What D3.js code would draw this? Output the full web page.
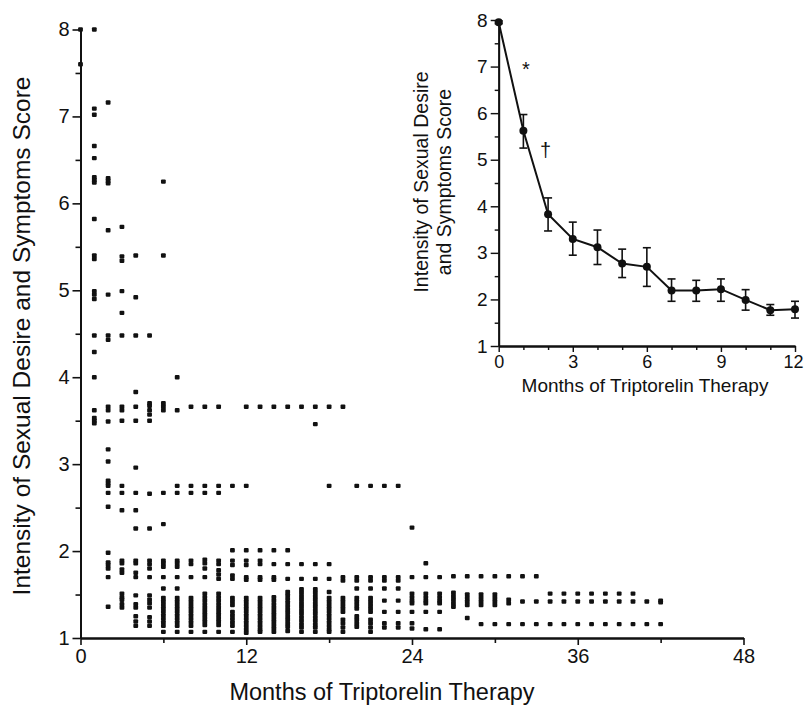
<!DOCTYPE html>
<html>
<head>
<meta charset="utf-8">
<script src="https://cdn.jsdelivr.net/npm/d3@7"></script>
<style>
  body { margin: 0; background: #fff; }
  svg text { font-family: "Liberation Sans", Arial, Helvetica, sans-serif; fill: #111; }
  .axis path, .axis line { stroke: #111; }
</style>
</head>
<body>
<div id="chart"></div>
<script>
// Individual scores per month of therapy (main scatter)
const scatterMonths = d3.range(0, 43);
const scatterScores = [
  [8.0, 7.6],
  [8.0, 7.09, 7.02, 6.66, 6.52, 6.3, 6.27, 6.24, 5.82, 5.40, 5.36, 4.99, 4.95, 4.90, 4.48, 4.29, 4.0, 3.62, 3.53, 3.50, 3.47],
  [7.16, 6.29, 6.26, 6.23, 5.69, 4.95, 4.48, 4.43, 3.66, 3.62, 3.49, 3.17, 3.03, 2.81, 2.78, 2.75, 2.67, 2.51, 1.98, 1.87, 1.84, 1.80, 1.70, 1.36],
  [5.73, 5.39, 5.34, 4.99, 4.74, 4.48, 3.66, 3.62, 3.50, 2.75, 2.67, 2.47, 1.89, 1.86, 1.79, 1.75, 1.51, 1.47, 1.44, 1.39, 1.35],
  [5.40, 4.92, 4.48, 3.83, 3.66, 3.50, 2.96, 2.67, 2.47, 2.26, 1.89, 1.86, 1.75, 1.70, 1.49, 1.39, 1.35, 1.25, 1.19, 1.14],
  [4.48, 3.70, 3.67, 3.62, 3.57, 3.50, 2.66, 2.26, 1.89, 1.85, 1.80, 1.70, 1.49, 1.44, 1.40, 1.35, 1.24, 1.19, 1.14],
  [6.25, 5.40, 3.70, 3.66, 3.62, 2.67, 2.31, 1.89, 1.86, 1.82, 1.70, 1.57, 1.46, 1.42, 1.38, 1.34, 1.30, 1.26, 1.22, 1.18, 1.14, 1.07],
  [4.0, 3.62, 2.75, 2.67, 1.89, 1.86, 1.82, 1.70, 1.57, 1.46, 1.42, 1.38, 1.34, 1.30, 1.26, 1.22, 1.18, 1.14, 1.07],
  [3.66, 2.75, 2.67, 1.89, 1.85, 1.70, 1.46, 1.42, 1.38, 1.34, 1.30, 1.26, 1.22, 1.18, 1.14, 1.07],
  [3.66, 2.75, 2.67, 1.90, 1.86, 1.80, 1.70, 1.51, 1.47, 1.43, 1.39, 1.35, 1.31, 1.27, 1.23, 1.19, 1.15, 1.07],
  [3.66, 2.75, 2.67, 1.89, 1.85, 1.78, 1.73, 1.68, 1.51, 1.47, 1.43, 1.39, 1.35, 1.31, 1.27, 1.23, 1.19, 1.15, 1.07],
  [2.75, 2.01, 1.89, 1.84, 1.72, 1.68, 1.46, 1.42, 1.38, 1.30, 1.26, 1.22, 1.18, 1.14, 1.07],
  [3.66, 2.75, 2.01, 1.89, 1.84, 1.70, 1.67, 1.46, 1.42, 1.38, 1.34, 1.30, 1.26, 1.22, 1.18, 1.14, 1.10, 1.06],
  [3.66, 2.01, 1.89, 1.85, 1.70, 1.67, 1.46, 1.42, 1.38, 1.34, 1.30, 1.26, 1.22, 1.18, 1.14, 1.10, 1.07],
  [3.66, 2.01, 1.85, 1.70, 1.67, 1.47, 1.43, 1.39, 1.35, 1.31, 1.27, 1.23, 1.19, 1.15, 1.11, 1.07],
  [3.66, 2.01, 1.85, 1.68, 1.53, 1.49, 1.45, 1.41, 1.37, 1.33, 1.29, 1.25, 1.21, 1.17, 1.13, 1.08],
  [3.66, 1.85, 1.68, 1.56, 1.52, 1.48, 1.44, 1.40, 1.36, 1.32, 1.28, 1.24, 1.20, 1.16, 1.12, 1.07],
  [3.66, 3.46, 1.85, 1.68, 1.56, 1.52, 1.48, 1.44, 1.40, 1.36, 1.32, 1.28, 1.24, 1.20, 1.16, 1.12, 1.07],
  [3.66, 2.75, 1.85, 1.68, 1.53, 1.46, 1.42, 1.38, 1.34, 1.30, 1.26, 1.22, 1.18, 1.14, 1.10, 1.07],
  [3.66, 1.70, 1.66, 1.46, 1.42, 1.38, 1.34, 1.30, 1.21, 1.17, 1.12, 1.07],
  [2.75, 1.70, 1.66, 1.57, 1.46, 1.42, 1.38, 1.34, 1.25, 1.21, 1.17, 1.13],
  [2.75, 1.70, 1.66, 1.57, 1.46, 1.42, 1.38, 1.34, 1.30, 1.21, 1.17, 1.12, 1.07],
  [2.75, 1.70, 1.66, 1.57, 1.43, 1.30, 1.17, 1.12],
  [2.75, 1.70, 1.66, 1.57, 1.43, 1.30, 1.17, 1.12],
  [2.27, 1.70, 1.51, 1.47, 1.43, 1.40, 1.30, 1.17, 1.11],
  [1.86, 1.70, 1.51, 1.47, 1.43, 1.40, 1.30, 1.10],
  [1.70, 1.51, 1.47, 1.43, 1.40, 1.30, 1.10],
  [1.71, 1.52, 1.48, 1.44, 1.40, 1.36],
  [1.71, 1.50, 1.46, 1.42, 1.38, 1.23],
  [1.71, 1.50, 1.46, 1.42, 1.38, 1.16],
  [1.71, 1.50, 1.46, 1.42, 1.38, 1.16],
  [1.71, 1.44, 1.40, 1.16],
  [1.71, 1.42, 1.16],
  [1.71, 1.42, 1.16],
  [1.51, 1.42, 1.16],
  [1.51, 1.42, 1.16],
  [1.51, 1.42, 1.16],
  [1.51, 1.42, 1.16],
  [1.51, 1.42, 1.16],
  [1.51, 1.42, 1.16],
  [1.51, 1.42, 1.16],
  [1.42, 1.16],
  [1.43, 1.41, 1.16]
];
const mainXTicks = [0, 12, 24, 36, 48];
const mainXMinor = [6, 18, 30, 42];
const mainYTicks = [1, 2, 3, 4, 5, 6, 7, 8];
const mainYMinor = [1.5, 2.5, 3.5, 4.5, 5.5, 6.5, 7.5];

// Inset: mean score with error bars over first year
const insetMonths = [0, 1, 2, 3, 4, 5, 6, 7, 8, 9, 10, 11, 12];
const insetMean  = [7.95, 5.62, 3.83, 3.30, 3.12, 2.77, 2.70, 2.19, 2.19, 2.22, 1.99, 1.77, 1.79];
const insetUpper = [7.98, 5.97, 4.18, 3.66, 3.49, 3.08, 3.11, 2.44, 2.41, 2.44, 2.21, 1.89, 1.96];
const insetLower = [7.92, 5.25, 3.47, 2.95, 2.75, 2.47, 2.28, 1.96, 1.96, 1.96, 1.77, 1.66, 1.60];
const insetXTicks = [0, 3, 6, 9, 12];
const insetXMinor = [1, 2, 4, 5, 7, 8, 10, 11];

const svg = d3.select('#chart')
  .append('svg')
  .attr('width', 804)
  .attr('height', 710);

const fmt = d3.format('d');

// ---- main chart
const x = d3.scaleLinear().domain([0, 48]).range([80.5, 743.5]);
const y = d3.scaleLinear().domain([1, 8]).range([638, 29.5]);

function styleAxis(g, width) {
  g.attr('class', 'axis');
  g.select('.domain').attr('stroke-width', width);
  g.selectAll('.tick line').attr('stroke-width', width * 0.8);
}

svg.append('g')
  .attr('transform', `translate(0,${y(1)})`)
  .call(d3.axisBottom(x).tickValues(mainXMinor).tickSize(5).tickSizeOuter(0).tickFormat(''))
  .call(g => styleAxis(g, 2));
svg.append('g')
  .attr('transform', `translate(0,${y(1)})`)
  .call(d3.axisBottom(x).tickValues(mainXTicks).tickSize(7).tickSizeOuter(0).tickPadding(4).tickFormat(fmt))
  .call(g => styleAxis(g, 2))
  .selectAll('text').attr('font-size', 20);

svg.append('g')
  .attr('transform', `translate(${x(0)},0)`)
  .call(d3.axisLeft(y).tickValues(mainYMinor).tickSize(5).tickSizeOuter(0).tickFormat(''))
  .call(g => styleAxis(g, 2));
svg.append('g')
  .attr('transform', `translate(${x(0)},0)`)
  .call(d3.axisLeft(y).tickValues(mainYTicks).tickSize(8).tickSizeOuter(0).tickPadding(3).tickFormat(fmt))
  .call(g => styleAxis(g, 2))
  .selectAll('text').attr('font-size', 20);

// flatten into points
const points = [];
scatterScores.forEach((col, i) => {
  col.forEach(v => points.push({ month: scatterMonths[i], score: v }));
});

svg.append('g')
  .selectAll('rect')
  .data(points)
  .enter()
  .append('rect')
  .attr('x', d => x(d.month) - 2.4)
  .attr('y', d => y(d.score) - 2.2)
  .attr('width', 4.8)
  .attr('height', 4.4)
  .attr('rx', 1)
  .attr('fill', '#111');

svg.append('text')
  .attr('x', 382)
  .attr('y', 700)
  .attr('text-anchor', 'middle')
  .attr('font-size', 23.5)
  .text('Months of Triptorelin Therapy');

svg.append('text')
  .attr('transform', 'translate(30,336) rotate(-90)')
  .attr('text-anchor', 'middle')
  .attr('font-size', 24.5)
  .text('Intensity of Sexual Desire and Symptoms Score');

// ---- inset
const ix = d3.scaleLinear().domain([0, 12]).range([498.7, 795]);
const iy = d3.scaleLinear().domain([1, 8]).range([346, 20]);

const inset = svg.append('g');
inset.append('g')
  .attr('transform', `translate(0,${iy(1)})`)
  .call(d3.axisBottom(ix).tickValues(insetXMinor).tickSize(4).tickSizeOuter(0).tickFormat(''))
  .call(g => styleAxis(g, 1.8));
inset.append('g')
  .attr('transform', `translate(0,${iy(1)})`)
  .call(d3.axisBottom(ix).tickValues(insetXTicks).tickSize(6).tickSizeOuter(0).tickPadding(3).tickFormat(fmt))
  .call(g => styleAxis(g, 1.8))
  .selectAll('text')
  .attr('font-size', 18)
  .attr('dx', d => d === 12 ? -2 : 0); // keep last label inside the page
inset.append('g')
  .attr('transform', `translate(${ix(0)},0)`)
  .call(d3.axisLeft(iy).tickValues(mainYMinor).tickSize(4).tickSizeOuter(0).tickFormat(''))
  .call(g => styleAxis(g, 1.8));
inset.append('g')
  .attr('transform', `translate(${ix(0)},0)`)
  .call(d3.axisLeft(iy).tickValues(mainYTicks).tickSize(8).tickSizeOuter(0).tickPadding(3).tickFormat(fmt))
  .call(g => styleAxis(g, 1.8))
  .selectAll('text').attr('font-size', 19);

const insetData = insetMonths.map((m, i) => ({
  month: m, mean: insetMean[i], hi: insetUpper[i], lo: insetLower[i]
}));

// error bars
const bars = inset.append('g').attr('stroke', '#111').attr('stroke-width', 1.6);
insetData.forEach(d => {
  bars.append('line').attr('x1', ix(d.month)).attr('x2', ix(d.month))
    .attr('y1', iy(d.hi)).attr('y2', iy(d.lo));
  bars.append('line').attr('x1', ix(d.month) - 4).attr('x2', ix(d.month) + 4)
    .attr('y1', iy(d.hi)).attr('y2', iy(d.hi));
  bars.append('line').attr('x1', ix(d.month) - 4).attr('x2', ix(d.month) + 4)
    .attr('y1', iy(d.lo)).attr('y2', iy(d.lo));
});

inset.append('path')
  .datum(insetData)
  .attr('fill', 'none')
  .attr('stroke', '#111')
  .attr('stroke-width', 2)
  .attr('d', d3.line().x(d => ix(d.month)).y(d => iy(d.mean)));

inset.selectAll('circle')
  .data(insetData)
  .enter()
  .append('circle')
  .attr('cx', d => ix(d.month))
  .attr('cy', d => iy(d.mean))
  .attr('r', 4)
  .attr('fill', '#111');

inset.append('text')
  .attr('x', ix(1.1))
  .attr('y', iy(6.8))
  .attr('text-anchor', 'middle')
  .attr('font-size', 20)
  .text('*');
inset.append('text')
  .attr('x', ix(1.9))
  .attr('y', iy(5.05))
  .attr('text-anchor', 'middle')
  .attr('font-size', 20)
  .text('†');

inset.append('text')
  .attr('x', 645)
  .attr('y', 392)
  .attr('text-anchor', 'middle')
  .attr('font-size', 19)
  .text('Months of Triptorelin Therapy');

const ylab = inset.append('text')
  .attr('transform', 'translate(428,182) rotate(-90)')
  .attr('text-anchor', 'middle')
  .attr('font-size', 19.5);
ylab.append('tspan').attr('x', 0).attr('dy', 0).text('Intensity of Sexual Desire');
ylab.append('tspan').attr('x', 0).attr('dy', 23).text('and Symptoms Score');
</script>
</body>
</html>
